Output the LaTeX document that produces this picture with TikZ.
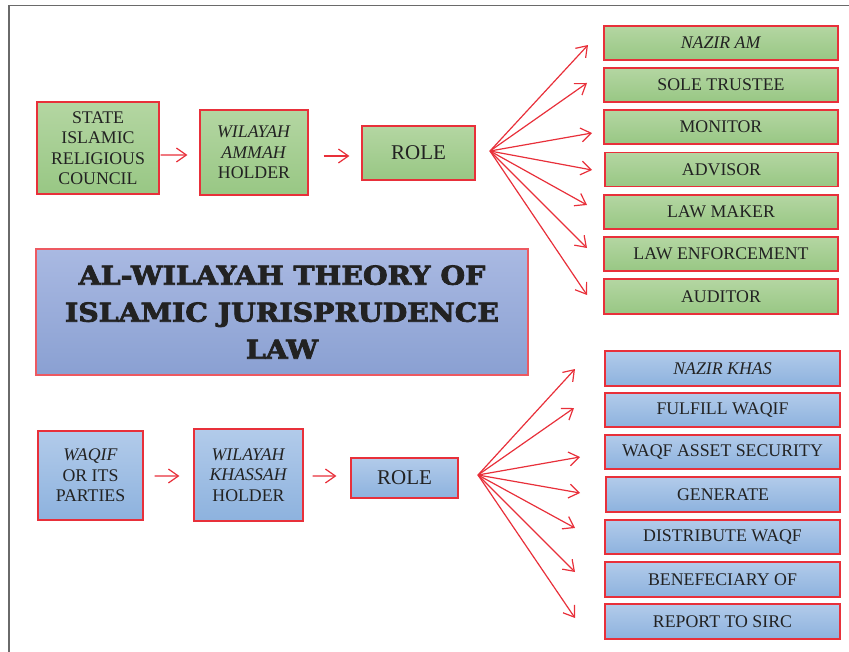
\documentclass[tikz,border=0pt]{standalone}
\usepackage{fontspec}
\setmainfont{Liberation Serif}
\newfontfamily\titlefont[FakeBold=3,FakeStretch=1.09]{DejaVu Serif Bold}
\usetikzlibrary{arrows.meta}
\definecolor{bred}{HTML}{E8303A}
\definecolor{gtop}{HTML}{B4D6A2}
\definecolor{gbot}{HTML}{98C784}
\definecolor{btop}{HTML}{B2CBEA}
\definecolor{bbot}{HTML}{8DB2DE}
\definecolor{ttop}{HTML}{A9B9E2}
\definecolor{tbot}{HTML}{8AA0D2}
\definecolor{txt}{HTML}{222222}
\definecolor{frame}{HTML}{6A6A6A}
\tikzset{
  box/.style={draw=bred, line width=1.2bp, inner sep=0pt, align=center, text=txt,
    font=\fontsize{17.8bp}{20.5bp}\selectfont},
  gbox/.style={box, top color=gtop, bottom color=gbot},
  bbox/.style={box, top color=btop, bottom color=bbot},
  rbox/.style={minimum width=234bp, minimum height=34bp},
  rolebox/.style={font=\fontsize{21bp}{24bp}\selectfont},
  arr/.style={draw=bred, line width=1.2bp, -{Straight Barb[length=10bp,width=14bp,line width=1.2bp]}},
}
\begin{document}
\begin{tikzpicture}[x=1bp,y=-1bp]
\useasboundingbox (0,0) rectangle (849,652);
% frame
\draw[frame, line width=1.6bp] (9,652) -- (9,5.5) -- (849,5.5);

% top (green) chain
\node[gbox, minimum width=122bp, minimum height=92bp] (sirc) at (98,148) {\raisebox{-3bp}{\parbox{110bp}{\centering STATE\\ISLAMIC\\RELIGIOUS\\COUNCIL}}};
\node[gbox, minimum width=108bp, minimum height=85bp] (wam) at (254,152.5) {\textit{WILAYAH}\\\textit{AMMAH}\\HOLDER};
\node[gbox, rolebox, minimum width=113bp, minimum height=54bp] (roleA) at (418.5,153) {ROLE};

\node[gbox, rbox] (a1) at (721,43) {\textit{NAZIR AM}};
\node[gbox, rbox] (a2) at (721,85) {SOLE TRUSTEE};
\node[gbox, rbox] (a3) at (721,127) {MONITOR};
\node[gbox, rbox, minimum width=233bp] (a4) at (721.5,169.5) {ADVISOR};
\node[gbox, rbox] (a5) at (721,212) {LAW MAKER};
\node[gbox, rbox] (a6) at (721,254) {LAW ENFORCEMENT};
\node[gbox, rbox, minimum height=35bp] (a7) at (721,296.5) {AUDITOR};

\draw[arr, shorten <=1bp, shorten >=12bp] ([yshift=-7bp]sirc.east) -- ([yshift=-2.5bp]wam.west);
\draw[arr, shorten <=15bp, shorten >=12bp] ([yshift=-3.5bp]wam.east) -- ([yshift=-3bp]roleA.west);

\coordinate (fA) at (490,151);
\coordinate (ta1) at (588,45);
\coordinate (ta2) at (587,83);
\coordinate (ta3) at (592,133);
\coordinate (ta4) at (592,170);
\coordinate (ta5) at (587,205);
\coordinate (ta6) at (587,248);
\coordinate (ta7) at (587,295);
\foreach \i in {1,...,7} \draw[arr] (fA) -- (ta\i);

% title
\node[draw=bred!80!white, line width=1.2bp, top color=ttop, bottom color=tbot,
  minimum width=492bp, minimum height=126bp, inner sep=0pt, align=center, text=txt,
  font=\titlefont\fontsize{26bp}{37bp}\selectfont] (title) at (282,312)
  {AL-WILAYAH THEORY OF\\ISLAMIC JURISPRUDENCE\\LAW};

% bottom (blue) chain
\node[bbox, minimum width=105bp, minimum height=89bp] (waqif) at (90.5,475.5) {\textit{WAQIF}\\OR ITS\\PARTIES};
\node[bbox, minimum width=109bp, minimum height=92bp] (wkh) at (248.5,475) {\textit{WILAYAH}\\\textit{KHASSAH}\\HOLDER};
\node[bbox, rolebox, minimum width=107bp, minimum height=40bp] (roleB) at (404.5,478) {ROLE};

\node[bbox, rbox, minimum width=235bp, minimum height=35bp] (b1) at (722.5,368.5) {\textit{NAZIR KHAS}};
\node[bbox, rbox, minimum width=235bp] (b2) at (722.5,410) {FULFILL WAQIF};
\node[bbox, rbox, minimum width=235bp] (b3) at (722.5,452) {WAQF ASSET SECURITY};
\node[bbox, rbox, minimum width=234bp, minimum height=35bp] (b4) at (723,494.5) {GENERATE};
\node[bbox, rbox, minimum width=235bp] (b5) at (722.5,537) {DISTRIBUTE WAQF};
\node[bbox, rbox, minimum width=235bp, minimum height=35bp] (b6) at (722.5,579.5) {BENEFECIARY OF};
\node[bbox, rbox, minimum width=235bp, minimum height=35bp] (b7) at (722.5,621.5) {REPORT TO SIRC};

\draw[arr, shorten <=11bp, shorten >=14bp] ([yshift=-0.5bp]waqif.east) -- ([yshift=-1bp]wkh.west);
\draw[arr, shorten <=9bp, shorten >=14bp] ([yshift=-1bp]wkh.east) -- ([yshift=2bp]roleB.west);

\coordinate (fB) at (478,475);
\coordinate (tb1) at (575,369);
\coordinate (tb2) at (574,408);
\coordinate (tb3) at (580,457);
\coordinate (tb4) at (580,493);
\coordinate (tb5) at (575,528);
\coordinate (tb6) at (575,572);
\coordinate (tb7) at (575,618);
\foreach \i in {1,...,7} \draw[arr] (fB) -- (tb\i);
\end{tikzpicture}
\end{document}
